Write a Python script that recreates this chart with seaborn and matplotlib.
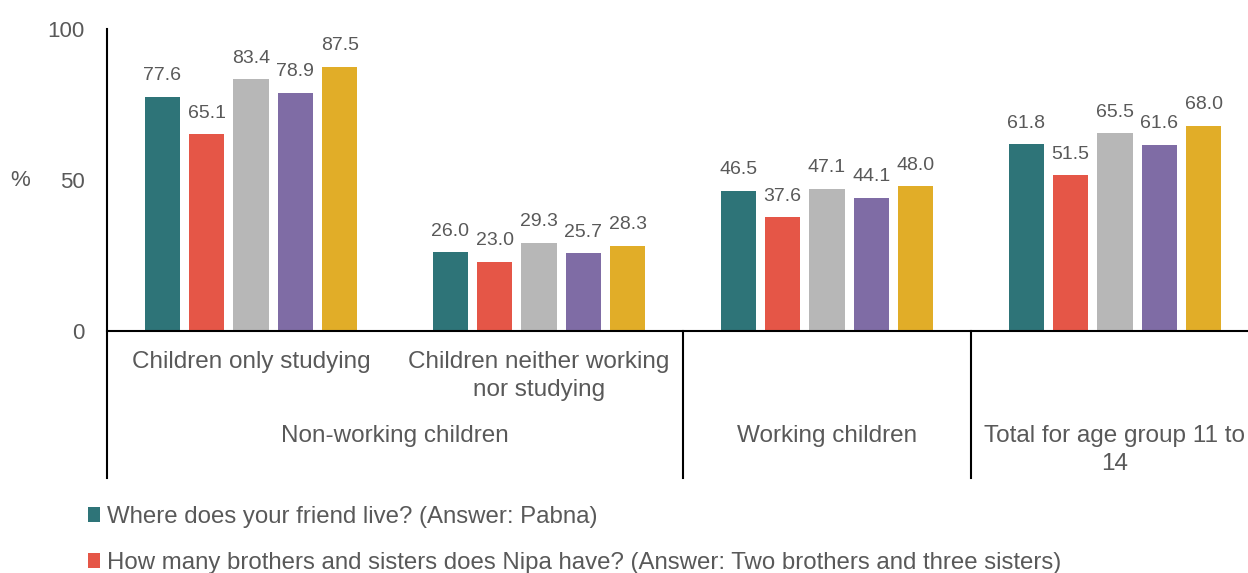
import numpy as np
import pandas as pd
import matplotlib.pyplot as plt
import matplotlib.transforms as mtransforms
from matplotlib.patches import Patch
import seaborn as sns

# Data
categories = ['Children only studying', 'Children neither working nor studying',
              'Working children', 'Total for age group 11 to 14']
sub_labels = ['Children only studying', 'Children neither working\nnor studying', '', '']
parent_labels = ['Non-working children', 'Working children', 'Total for age group 11 to\n14']
parent_members = [[0, 1], [2], [3]]

series = ['Where does your friend live? (Answer: Pabna)',
          'How many brothers and sisters does Nipa have? (Answer: Two brothers and three sisters)',
          'Question 3', 'Question 4', 'Question 5']
friend_live = [77.6, 26.0, 46.5, 61.8]
brothers_sisters = [65.1, 23.0, 37.6, 51.5]
question_3 = [83.4, 29.3, 47.1, 65.5]
question_4 = [78.9, 25.7, 44.1, 61.6]
question_5 = [87.5, 28.3, 48.0, 68.0]
colors = ['#2E7478', '#E55647', '#B7B7B7', '#7F6CA5', '#E1AD28']

values = [friend_live, brothers_sisters, question_3, question_4, question_5]
df = pd.DataFrame({
    'category': categories * len(series),
    'series': np.repeat(series, len(categories)),
    'value': np.concatenate(values),
})

text_color = '#595959'
plt.rcParams['font.family'] = ['Liberation Sans', 'DejaVu Sans']

fig = plt.figure(figsize=(12.48, 5.73), dpi=100)
W, H = 1248, 573
ax_left, ax_top, ax_bottom = 107, 29, 331
slot = 288
ax = fig.add_axes([ax_left / W, (H - ax_bottom) / H, 4 * slot / W, (ax_bottom - ax_top) / H])

sns.barplot(data=df, x='category', y='value', hue='series', order=categories,
            hue_order=series, palette=colors, saturation=1, width=0.77, gap=0.21,
            legend=False, ax=ax, errorbar=None)

for cont in ax.containers:
    ax.bar_label(cont, fmt='%.1f', padding=9, fontsize=14, color=text_color)

ax.set_ylim(0, 100)
ax.set_xlim(-0.5, 3.5)
ax.set_yticks([0, 50, 100])
ax.tick_params(axis='y', length=0, pad=16, labelsize=16, labelcolor=text_color)
ax.tick_params(axis='x', length=0, labelbottom=False)
ax.set_xlabel('')
ax.set_ylabel('')
for s in ['top', 'right', 'left']:
    ax.spines[s].set_visible(False)
ax.spines['bottom'].set_linewidth(1.5)
ax.spines['bottom'].set_color('black')

# multi-level category axis
trans = mtransforms.blended_transform_factory(ax.transData, ax.transAxes)
axh = ax_bottom - ax_top
y_low = (ax_bottom - 478) / axh
ax.plot([-0.5, -0.5], [1, y_low], color='black', lw=1.5, transform=trans, clip_on=False)
for xb in [1.5, 2.5]:
    ax.plot([xb, xb], [0, y_low], color='black', lw=1.5, transform=trans, clip_on=False)

y_sub = (ax_bottom - 351) / axh
y_par = (ax_bottom - 425) / axh
for i, lab in enumerate(sub_labels):
    if lab:
        ax.text(i, y_sub, lab, ha='center', va='top', fontsize=17.5, color=text_color,
                transform=trans, linespacing=1.38)
for lab, mem in zip(parent_labels, parent_members):
    ax.text(np.mean(mem), y_par, lab, ha='center', va='top', fontsize=17.5, color=text_color,
            transform=trans, linespacing=1.38)

fig.text(20 / W, (H - 181) / H, '%', ha='center', va='center', fontsize=16, color=text_color)

handles = [Patch(facecolor=c, edgecolor='none') for c in colors[:2]]
fig.legend(handles, series[:2], loc='upper left', bbox_to_anchor=(78 / W, (H - 496) / H),
           frameon=False, fontsize=17.3, labelcolor=text_color, handlelength=0.5,
           handleheight=0.6, handletextpad=0.3, labelspacing=1.0, borderaxespad=0)

fig.savefig('out.png', dpi=100)
